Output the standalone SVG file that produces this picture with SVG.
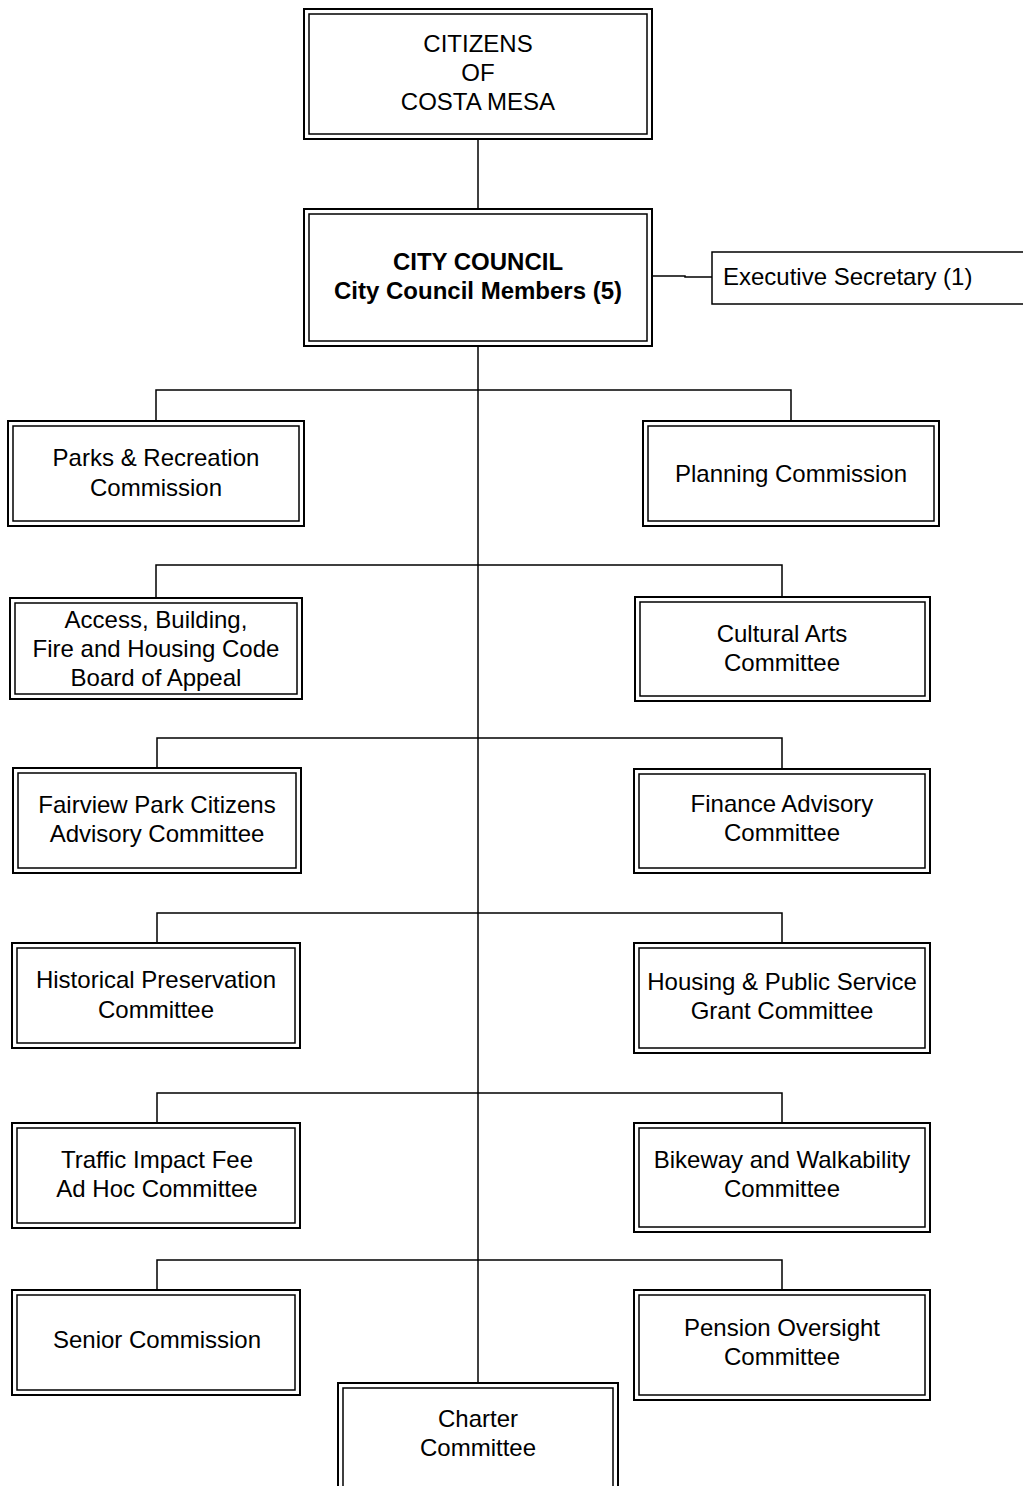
<svg xmlns="http://www.w3.org/2000/svg" width="1023" height="1486" viewBox="0 0 1023 1486">
<style>
.o{fill:#fff;stroke:#000;stroke-width:2}
.i{fill:none;stroke:#000;stroke-width:1.5}
.s{fill:#fff;stroke:#000;stroke-width:1.5}
.c{fill:none;stroke:#000;stroke-width:1.5}
text{font-family:"Liberation Sans",Arial,sans-serif;font-size:24px;fill:#000;text-anchor:middle}
.b{font-weight:bold}
.l{text-anchor:start}
</style>
<rect width="1023" height="1486" fill="#fff"/>
<g id="connectors">
<line class="c" x1="478" y1="139" x2="478" y2="1384"/>
<polyline class="c" points="652,276 685,276 685,277 712,277"/>
<polyline class="c" points="156,421 156,390 791,390 791,421"/>
<polyline class="c" points="156,598 156,565 782,565 782,597"/>
<polyline class="c" points="157,768 157,738 782,738 782,769"/>
<polyline class="c" points="157,943 157,913 782,913 782,943"/>
<polyline class="c" points="157,1123 157,1093 782,1093 782,1123"/>
<polyline class="c" points="157,1290 157,1260 782,1260 782,1290"/>
</g>
<g id="citizens">
<rect class="o" x="304" y="9" width="348" height="130"/>
<rect class="i" x="309" y="14" width="338" height="120"/>
<text x="478" y="52">CITIZENS</text>
<text x="478" y="81">OF</text>
<text x="478" y="110">COSTA MESA</text>
</g>
<g id="council">
<rect class="o" x="304" y="209" width="348" height="137"/>
<rect class="i" x="309" y="214" width="338" height="127"/>
<text class="b" x="478" y="270">CITY COUNCIL</text>
<text class="b" x="478" y="299">City Council Members (5)</text>
</g>
<g id="exec">
<rect class="s" x="712" y="252" width="330" height="52"/>
<text class="l" x="723" y="285">Executive Secretary (1)</text>
</g>
<g id="parks">
<rect class="o" x="8" y="421" width="296" height="105"/>
<rect class="i" x="13" y="426" width="286" height="95"/>
<text x="156" y="466">Parks &amp; Recreation</text>
<text x="156" y="496">Commission</text>
</g>
<g id="planning">
<rect class="o" x="643" y="421" width="296" height="105"/>
<rect class="i" x="648" y="426" width="286" height="95"/>
<text x="791" y="482">Planning Commission</text>
</g>
<g id="access">
<rect class="o" x="10" y="598" width="292" height="101"/>
<rect class="i" x="15" y="603" width="282" height="91"/>
<text x="156" y="628">Access, Building,</text>
<text x="156" y="657">Fire and Housing Code</text>
<text x="156" y="686">Board of Appeal</text>
</g>
<g id="cultural">
<rect class="o" x="635" y="597" width="295" height="104"/>
<rect class="i" x="640" y="602" width="285" height="94"/>
<text x="782" y="642">Cultural Arts</text>
<text x="782" y="671">Committee</text>
</g>
<g id="fairview">
<rect class="o" x="13" y="768" width="288" height="105"/>
<rect class="i" x="18" y="773" width="278" height="95"/>
<text x="157" y="813">Fairview Park Citizens</text>
<text x="157" y="842">Advisory Committee</text>
</g>
<g id="finance">
<rect class="o" x="634" y="769" width="296" height="104"/>
<rect class="i" x="639" y="774" width="286" height="94"/>
<text x="782" y="812">Finance Advisory</text>
<text x="782" y="841">Committee</text>
</g>
<g id="historical">
<rect class="o" x="12" y="943" width="288" height="105"/>
<rect class="i" x="17" y="948" width="278" height="95"/>
<text x="156" y="988">Historical Preservation</text>
<text x="156" y="1018">Committee</text>
</g>
<g id="housing">
<rect class="o" x="634" y="943" width="296" height="110"/>
<rect class="i" x="639" y="948" width="286" height="100"/>
<text x="782" y="990">Housing &amp; Public Service</text>
<text x="782" y="1019">Grant Committee</text>
</g>
<g id="traffic">
<rect class="o" x="12" y="1123" width="288" height="105"/>
<rect class="i" x="17" y="1128" width="278" height="95"/>
<text x="157" y="1168">Traffic Impact Fee</text>
<text x="157" y="1197">Ad Hoc Committee</text>
</g>
<g id="bikeway">
<rect class="o" x="634" y="1123" width="296" height="109"/>
<rect class="i" x="639" y="1128" width="286" height="99"/>
<text x="782" y="1168">Bikeway and Walkability</text>
<text x="782" y="1197">Committee</text>
</g>
<g id="senior">
<rect class="o" x="12" y="1290" width="288" height="105"/>
<rect class="i" x="17" y="1295" width="278" height="95"/>
<text x="157" y="1348">Senior Commission</text>
</g>
<g id="pension">
<rect class="o" x="634" y="1290" width="296" height="110"/>
<rect class="i" x="639" y="1295" width="286" height="100"/>
<text x="782" y="1336">Pension Oversight</text>
<text x="782" y="1365">Committee</text>
</g>
<g id="charter">
<rect class="o" x="338" y="1383" width="280" height="120"/>
<rect class="i" x="343" y="1388" width="270" height="110"/>
<text x="478" y="1427">Charter</text>
<text x="478" y="1456">Committee</text>
</g>
</svg>
